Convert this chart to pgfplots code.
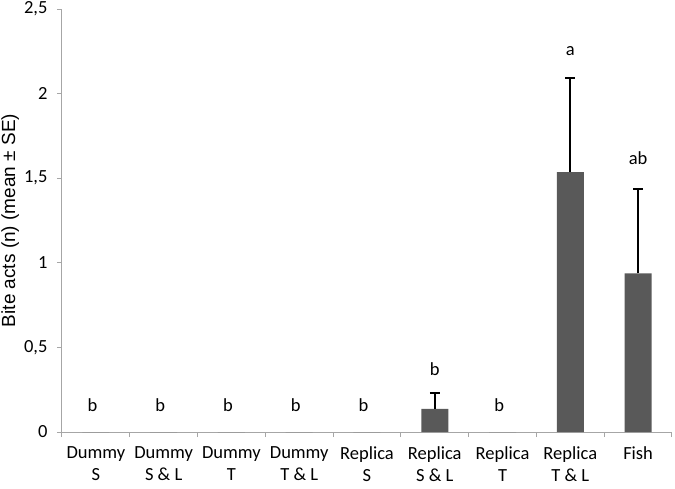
\documentclass[border=0pt]{standalone}
\usepackage{pgfplots}
\pgfplotsset{compat=1.18}
\usepackage{fontspec}
\setmainfont{Carlito}
\newfontfamily\arialf{Liberation Sans}
\definecolor{barc}{HTML}{595959}
\definecolor{axc}{HTML}{A6A6A6}
\begin{document}
\begin{tikzpicture}
\path[use as bounding box] (-62pt,-56pt) rectangle (613pt,432pt);
\begin{axis}[
  scale only axis, width=610pt, height=423pt,
  anchor=south west, at={(0pt,0pt)},
  xmin=-0.5, xmax=8.5, ymin=0, ymax=2.5,
  axis x line=bottom, axis y line=left,
  axis line style={draw=axc, line width=1pt, -},
  tick style={draw=axc, line width=1pt},
  major tick length=5pt, tick align=outside,
  xtick={-0.5,0.5,1.5,2.5,3.5,4.5,5.5,6.5,7.5,8.5}, xticklabels={},
  extra x ticks={0,1,2,3,4,5,6,7,8},
  extra x tick labels={{Dummy\\S},{Dummy\\S \& L},{Dummy\\T},{Dummy\\T \& L},{Replica\\S},{Replica\\S \& L},{Replica\\T},{Replica\\T \& L},{Fish}},
  extra x tick style={major tick length=0pt, tick style={draw=none},
     xticklabel style={align=center, anchor=north, inner sep=0pt, yshift=-14pt}},
  xticklabel style={align=center, font=\fontsize{18.5}{22.5}\selectfont},
  ytick={0,0.5,1,1.5,2,2.5},
  yticklabel style={font=\fontsize{18.5}{22}\selectfont, xshift=-6pt,
     /pgf/number format/.cd, use comma, assume math mode=true},
  ylabel={\arialf Bite acts (n) (mean ± SE)},
  every axis y label/.style={at={(axis description cs:-0.085,0.5)}, rotate=90, anchor=center,
     font=\fontsize{19}{22}\selectfont},
]
\addplot[ybar, bar width=27pt, bar shift=0pt, fill=barc, draw=none]
  coordinates {(0,0) (1,0) (2,0) (3,0) (4,0) (5,0.136) (6,0) (7,1.536) (8,0.938)};
\addplot[draw=none, mark=none, forget plot,
  error bars/.cd, y dir=plus, y explicit, error mark=|,
  error bar style={draw=black, line width=2.2pt},
  error mark options={draw=black, line width=2pt, mark size=5pt}]
  coordinates {(5,0.136) +- (0,0.094) (7,1.536) +- (0,0.555) (8,0.938) +- (0,0.497)};
\begin{scope}[font=\fontsize{18.5}{22}\selectfont]
\node at (axis cs:-0.05,0.16) {b};
\node at (axis cs:0.95,0.16) {b};
\node at (axis cs:1.95,0.16) {b};
\node at (axis cs:2.95,0.16) {b};
\node at (axis cs:3.95,0.16) {b};
\node at (axis cs:5,0.37) {b};
\node at (axis cs:5.95,0.16) {b};
\node at (axis cs:7,2.25) {a};
\node at (axis cs:8,1.62) {ab};
\end{scope}
\end{axis}
\end{tikzpicture}
\end{document}
